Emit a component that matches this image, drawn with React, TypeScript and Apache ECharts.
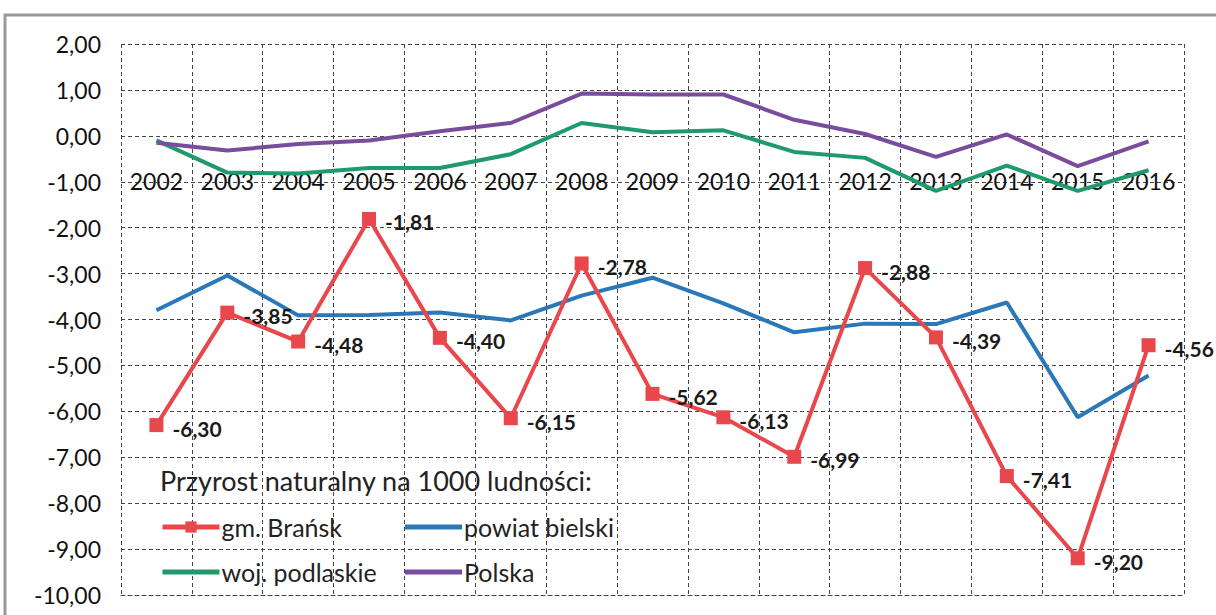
import React, { useEffect, useRef } from "react";
import * as echarts from "echarts";

const years = ["2002","2003","2004","2005","2006","2007","2008","2009","2010","2011","2012","2013","2014","2015","2016"];
const gmBransk = [-6.30, -3.85, -4.48, -1.81, -4.40, -6.15, -2.78, -5.62, -6.13, -6.99, -2.88, -4.39, -7.41, -9.20, -4.56];
const powiatBielski = [-3.80, -3.04, -3.91, -3.90, -3.85, -4.02, -3.48, -3.09, -3.65, -4.28, -4.09, -4.10, -3.63, -6.13, -5.22];
const wojPodlaskie = [-0.10, -0.80, -0.82, -0.70, -0.70, -0.40, 0.28, 0.08, 0.12, -0.35, -0.48, -1.20, -0.65, -1.20, -0.75];
const polska = [-0.15, -0.32, -0.18, -0.10, 0.10, 0.28, 0.92, 0.90, 0.90, 0.35, 0.04, -0.46, 0.03, -0.66, -0.12];

const FONT = "Lato, 'Open Sans', sans-serif";
const fmt = (v: number) => v.toFixed(2).replace(".", ",");
const BAR = "path://M0,0h57v5h-57z";

export default function App() {
  const ref = useRef<HTMLDivElement>(null);
  useEffect(() => {
    if (!ref.current) return;
    const chart = echarts.init(ref.current, null, { renderer: "svg" });
    const grid = { color: "#444", width: 1, type: [4, 3] as any };
    const legendCommon = {
      orient: "vertical",
      top: 507,
      itemWidth: 57,
      itemHeight: 14,
      itemGap: 15,
      lineStyle: { width: 5 },
      textStyle: { fontSize: 25, lineHeight: 30, color: "#222", fontFamily: FONT, padding: [0, 0, 0, -3] },
    };
    chart.setOption({
      animation: false,
      backgroundColor: "#fff",
      textStyle: { fontFamily: FONT },
      grid: { left: 121, right: 32, top: 44, bottom: 20, outerBoundsMode: "none", containLabel: false },
      xAxis: {
        type: "category",
        data: years,
        boundaryGap: true,
        position: "bottom",
        axisLine: { show: true, onZero: false, lineStyle: grid },
        axisTick: { show: false },
        axisLabel: { color: "#111", fontSize: 23, margin: -414, verticalAlign: "middle", fontFamily: FONT },
        splitLine: { show: true, lineStyle: grid },
      },
      yAxis: {
        type: "value",
        min: -10,
        max: 2,
        interval: 1,
        axisLine: { show: false },
        axisTick: { show: false },
        axisLabel: { color: "#111", fontSize: 23, margin: 20, formatter: (v: number) => fmt(v), fontFamily: FONT },
        splitLine: { show: true, lineStyle: grid },
      },
      graphic: [
        {
          type: "rect",
          shape: { x: 5, y: 15, width: 1250, height: 640 },
          style: { fill: "none", stroke: "#999", lineWidth: 3 },
          silent: true,
        },
        {
          type: "text",
          x: 160,
          y: 480,
          style: {
            text: "Przyrost naturalny na 1000 ludności:",
            fill: "#222",
            font: `27px ${FONT}`,
            verticalAlign: "middle",
          },
        },
      ],
      legend: [
        {
          ...legendCommon,
          left: 155,
          data: [{ name: "gm. Brańsk" }, { name: "woj. podlaskie", icon: BAR }],
        },
        {
          ...legendCommon,
          left: 400,
          data: [{ name: "powiat bielski", icon: BAR }, { name: "Polska", icon: BAR }],
        },
      ],
      series: [
        {
          name: "woj. podlaskie",
          type: "line",
          data: wojPodlaskie,
          symbol: "none",
          lineStyle: { color: "#1F9A6C", width: 4 },
          itemStyle: { color: "#1F9A6C" },
          z: 2,
        },
        {
          name: "Polska",
          type: "line",
          data: polska,
          symbol: "none",
          lineStyle: { color: "#7A4C9C", width: 4 },
          itemStyle: { color: "#7A4C9C" },
          z: 2,
        },
        {
          name: "powiat bielski",
          type: "line",
          data: powiatBielski,
          symbol: "none",
          lineStyle: { color: "#2A78B8", width: 4 },
          itemStyle: { color: "#2A78B8" },
          z: 3,
        },
        {
          name: "gm. Brańsk",
          type: "line",
          data: gmBransk,
          symbol: "rect",
          symbolSize: 14,
          lineStyle: { color: "#E8474C", width: 4 },
          itemStyle: { color: "#E8474C" },
          label: {
            show: true,
            position: "right",
            distance: 9,
            offset: [0, 3],
            formatter: (p: any) => fmt(p.value),
            fontSize: 21,
            fontWeight: "bold",
            color: "#1a1a1a",
            fontFamily: FONT,
          },
          z: 4,
        },
      ],
    });
    return () => chart.dispose();
  }, []);
  return <div ref={ref} style={{ position: "fixed", left: 0, top: 0, width: 1216, height: 615 }} />;
}
